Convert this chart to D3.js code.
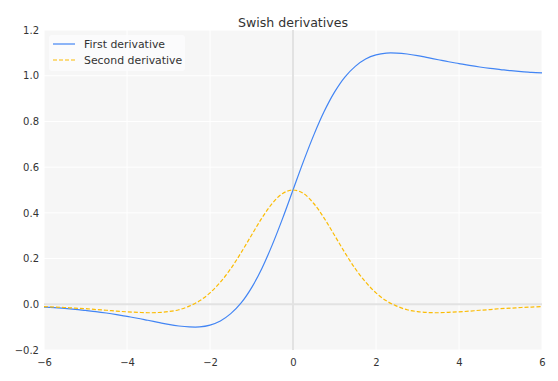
<!DOCTYPE html>
<html><head><meta charset="utf-8">
<script src="https://cdn.jsdelivr.net/npm/d3@7"></script>
<style>body{margin:0;background:#fff;}svg text{font-family:"DejaVu Sans",sans-serif;fill:#333;}</style>
</head><body>
<svg id="c" width="558" height="381"></svg>
<script>
const xValues = d3.range(-6, 6.001, 0.25).map(v => +v.toFixed(2));
const firstDeriv = [-0.012,-0.015,-0.018,-0.022,-0.027,-0.032,-0.038,-0.045,-0.053,-0.061,-0.070,-0.079,-0.088,-0.095,-0.099,-0.099,-0.091,-0.073,-0.041,0.006,0.072,0.157,0.260,0.376,
  0.500,0.624,0.740,0.843,0.928,0.994,1.041,1.073,1.091,1.099,1.099,1.095,1.088,1.079,1.070,1.061,1.053,1.045,1.038,1.032,1.027,1.022,1.018,1.015,1.012];
const secondDeriv = [-0.010,-0.012,-0.014,-0.017,-0.019,-0.023,-0.026,-0.030,-0.033,-0.035,-0.037,-0.036,-0.032,-0.024,-0.008,0.015,0.050,0.097,0.156,0.226,0.302,0.377,0.441,0.485,
  0.500,0.485,0.441,0.377,0.302,0.226,0.156,0.097,0.050,0.015,-0.008,-0.024,-0.032,-0.036,-0.037,-0.035,-0.033,-0.030,-0.026,-0.023,-0.019,-0.017,-0.014,-0.012,-0.010];
const xTicks = [-6,-4,-2,0,2,4,6];
const yTicks = [-0.2,0.0,0.2,0.4,0.6,0.8,1.0,1.2];
const seriesNames = ["First derivative","Second derivative"];
const title = "Swish derivatives";

const svg = d3.select("#c");
const m = {l:44, r:16, t:30, b:31};
const W = 558, H = 381;
const x = d3.scaleLinear().domain([-6,6]).range([m.l, W-m.r]);
const y = d3.scaleLinear().domain([-0.2,1.2]).range([H-m.b, m.t]);

svg.append("rect").attr("x",x(-6)).attr("y",y(1.2)).attr("width",x(6)-x(-6)).attr("height",y(-0.2)-y(1.2)).attr("fill","#f6f6f6");

// grid
svg.append("g").selectAll("line").data(xTicks).join("line")
  .attr("x1",d=>x(d)).attr("x2",d=>x(d)).attr("y1",y(1.2)).attr("y2",y(-0.2))
  .attr("stroke","#fff").attr("stroke-width",1);
svg.append("g").selectAll("line").data(yTicks).join("line")
  .attr("y1",d=>y(d)).attr("y2",d=>y(d)).attr("x1",x(-6)).attr("x2",x(6))
  .attr("stroke","#fff").attr("stroke-width",1);
// zero lines
svg.append("line").attr("x1",x(0)).attr("x2",x(0)).attr("y1",y(1.2)).attr("y2",y(-0.2)).attr("stroke","#e2e2e2").attr("stroke-width",2);
svg.append("line").attr("y1",y(0)).attr("y2",y(0)).attr("x1",x(-6)).attr("x2",x(6)).attr("stroke","#e2e2e2").attr("stroke-width",2);

// axes
const xa = svg.append("g").attr("transform",`translate(0,${y(-0.2)})`)
  .call(d3.axisBottom(x).tickValues(xTicks).tickSize(0).tickPadding(9).tickFormat(d=>d3.format("")(d).replace("-","\u2212")));
xa.select(".domain").remove();
const ya = svg.append("g").attr("transform",`translate(${x(-6)},0)`)
  .call(d3.axisLeft(y).tickValues(yTicks).tickSize(0).tickPadding(5).tickFormat(d=>d3.format(".1f")(d).replace("-","\u2212")));
ya.select(".domain").remove();
svg.selectAll(".tick text").attr("font-size",10).attr("font-family","DejaVu Sans").attr("fill","#333");

const line = d3.line().x((d,i)=>x(xValues[i])).y(d=>y(d)).curve(d3.curveCatmullRom);
svg.append("path").datum(firstDeriv).attr("d",line).attr("fill","none").attr("stroke","#4285F4").attr("stroke-width",1.2);
svg.append("path").datum(secondDeriv).attr("d",line).attr("fill","none").attr("stroke","#FBBC05").attr("stroke-width",1.2).attr("stroke-dasharray","4,2");

svg.append("text").attr("x",x(0)).attr("y",26.5).attr("text-anchor","middle").attr("font-size",12.6).text(title);

// legend
const lg = svg.append("g");
lg.append("rect").attr("x",49).attr("y",35).attr("width",136).attr("height",36).attr("rx",3).attr("fill","#fcfcfd").attr("fill-opacity",0.9);
const colors = ["#4285F4","#FBBC05"], dashes = [null,"4,2"];
seriesNames.forEach((n,i)=>{
  const yy = 44 + i*16;
  lg.append("line").attr("x1",53).attr("x2",75).attr("y1",yy).attr("y2",yy).attr("stroke",colors[i]).attr("stroke-width",1.2).attr("stroke-dasharray",dashes[i]);
  lg.append("text").attr("x",84).attr("y",yy+4).attr("font-size",10.9).text(n);
});
</script>
</body></html>
